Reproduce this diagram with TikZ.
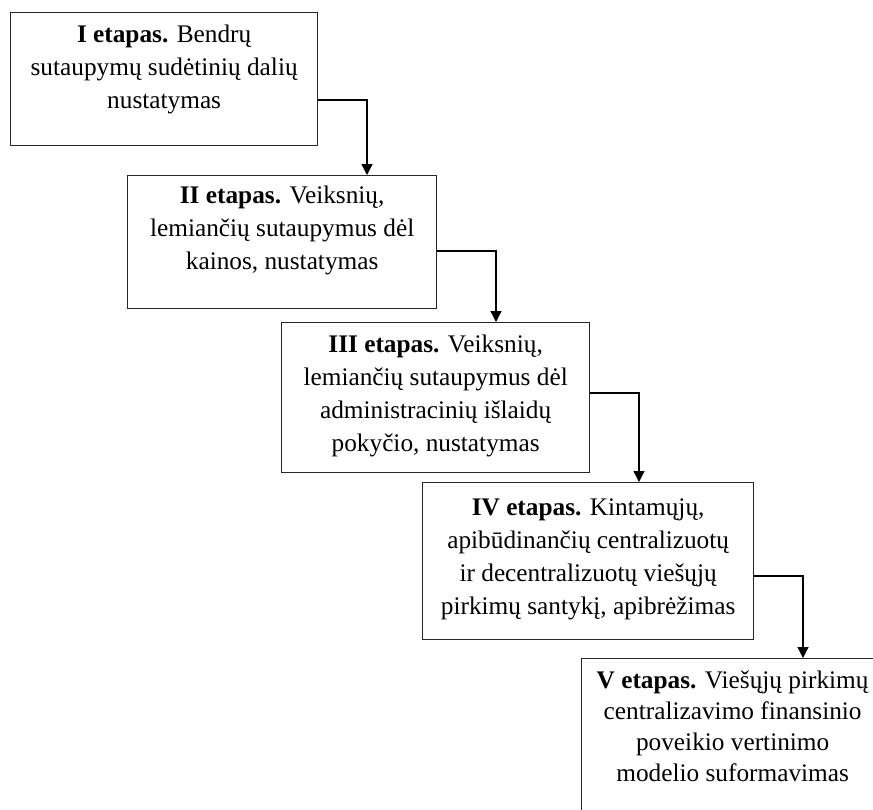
\documentclass[tikz,border=0pt]{standalone}
\usepackage{fontspec}
\setmainfont{Liberation Serif}
\usetikzlibrary{arrows.meta}
\begin{document}
\begin{tikzpicture}[x=1pt,y=-1pt,
  box/.style={draw=black!85,line width=1.3pt,rectangle,inner sep=0pt,anchor=north west},
  txt/.style={anchor=north,inner sep=0pt,align=center,font=\fontsize{25.3}{33}\selectfont},
  arr/.style={draw=black,line width=1.3pt,-{Triangle[length=11pt,width=11pt]}}]
\useasboundingbox (0,0) rectangle (873,809);
\clip (0,0) rectangle (873,809);
\node[box,minimum width=307pt,minimum height=133pt] (b1) at (10,12) {};
\node[box,minimum width=309pt,minimum height=133pt] (b2) at (127,175) {};
\node[box,minimum width=308pt,minimum height=150pt] (b3) at (281,322) {};
\node[box,minimum width=331pt,minimum height=157pt] (b4) at (422,482) {};
\node[box,minimum width=302pt,minimum height=180pt] (b5) at (581,658) {};
\node[txt] (t1) at ([yshift=-7pt]b1.north) {\strut\textbf{I etapas.} Bendrų\\sutaupymų sudėtinių dalių\\nustatymas};
\node[txt] (t2) at ([yshift=-5pt]b2.north) {\strut\textbf{II etapas.} Veiksnių,\\lemiančių sutaupymus dėl\\kainos, nustatymas};
\node[txt] (t3) at ([yshift=-7pt]b3.north) {\strut\textbf{III etapas.} Veiksnių,\\lemiančių sutaupymus dėl\\administracinių išlaidų\\pokyčio, nustatymas};
\node[txt] (t4) at ([yshift=-10pt]b4.north) {\strut\textbf{IV etapas.} Kintamųjų,\\apibūdinančių centralizuotų\\ir decentralizuotų viešųjų\\pirkimų santykį, apibrėžimas};
\node[txt,font=\fontsize{25.3}{31}\selectfont] (t5) at ([yshift=-9pt]b5.north) {\strut\textbf{V etapas.} Viešųjų pirkimų\\centralizavimo finansinio\\poveikio vertinimo\\modelio suformavimas};
\draw[arr] (b1.east |- 0,100) -| (367,0 |- b2.north);
\draw[arr] (b2.east |- 0,251) -| (496,0 |- b3.north);
\draw[arr] (b3.east |- 0,393) -| (639,0 |- b4.north);
\draw[arr] (b4.east |- 0,576) -| (803,0 |- b5.north);
\end{tikzpicture}
\end{document}
